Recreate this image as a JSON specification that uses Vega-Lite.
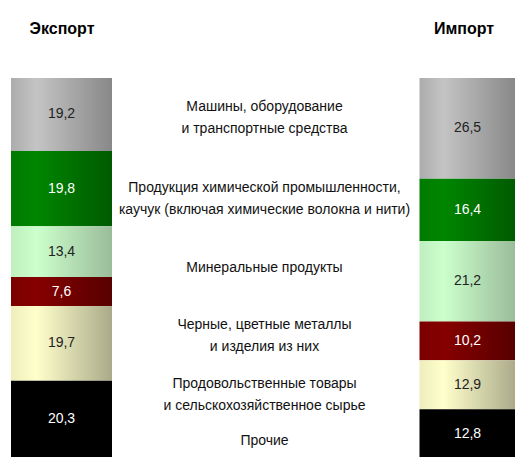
{
  "$schema": "https://vega.github.io/schema/vega-lite/v6.json",
  "width": 515,
  "height": 380,
  "autosize": "none",
  "padding": {"left": 0, "top": 78, "right": 0, "bottom": 0},
  "background": "white",
  "config": {
    "view": {"stroke": null},
    "locale": {"number": {"decimal": ",", "thousands": " ", "grouping": [3], "currency": ["", ""]}}
  },
  "datasets": {
    "shares": [
      {"side": "Экспорт", "cat": "Машины", "ord": 6, "value": 19.2},
      {"side": "Экспорт", "cat": "Химия", "ord": 5, "value": 19.8},
      {"side": "Экспорт", "cat": "Минеральные", "ord": 4, "value": 13.4},
      {"side": "Экспорт", "cat": "Металлы", "ord": 3, "value": 7.6},
      {"side": "Экспорт", "cat": "Продовольствие", "ord": 2, "value": 19.7},
      {"side": "Экспорт", "cat": "Прочие", "ord": 1, "value": 20.3},
      {"side": "Импорт", "cat": "Машины", "ord": 6, "value": 26.5},
      {"side": "Импорт", "cat": "Химия", "ord": 5, "value": 16.4},
      {"side": "Импорт", "cat": "Минеральные", "ord": 4, "value": 21.2},
      {"side": "Импорт", "cat": "Металлы", "ord": 3, "value": 10.2},
      {"side": "Импорт", "cat": "Продовольствие", "ord": 2, "value": 12.9},
      {"side": "Импорт", "cat": "Прочие", "ord": 1, "value": 12.8}
    ],
    "labels": [
      {"name": "Машины, оборудование\nи транспортные средства", "anchor": 92.4},
      {"name": "Продукция химической промышленности,\nкаучук (включая химические волокна и нити)", "anchor": 71.1},
      {"name": "Минеральные продукты", "anchor": 50},
      {"name": "Черные, цветные металлы\nи изделия из них", "anchor": 35},
      {"name": "Продовольственные товары\nи сельскохозяйственное сырье", "anchor": 19.5},
      {"name": "Прочие", "anchor": 4.5}
    ]
  },
  "layer": [
    {
      "data": {"name": "shares"},
      "transform": [
        {"stack": "value", "groupby": ["side"], "sort": [{"field": "ord", "order": "ascending"}], "as": ["v0", "v1"]}
      ],
      "mark": {"type": "bar", "strokeWidth": 0},
      "encoding": {
        "x": {
          "field": "side", "type": "nominal",
          "scale": {"type": "point", "domain": ["Экспорт", "mid", "Импорт"], "range": [61.5, 467.5], "padding": 0},
          "axis": {
            "orient": "top", "title": null, "domain": false, "ticks": false, "tickSize": 0,
            "labelAngle": 0,
            "labelExpr": "datum.value === 'mid' ? '' : datum.value",
            "labelFont": "Liberation Sans", "labelFontSize": 16, "labelFontWeight": "bold",
            "labelOffset": {"condition": {"test": "datum.value === 'Импорт'", "value": -4}, "value": 0},
            "labelColor": "#000000", "labelBaseline": "alphabetic", "labelPadding": 45
          }
        },
        "y": {"field": "v0", "type": "quantitative", "scale": {"domain": [0, 100], "nice": false, "zero": true}, "axis": null},
        "y2": {"field": "v1"},
        "size": {"condition": {"test": "datum.side === 'Импорт'", "value": 96}, "value": 101},
        "fill": {
          "condition": [
            {"test": "datum.cat === 'Машины'", "value": {"gradient": "linear", "x1": 0, "x2": 1, "y1": 0, "y2": 0, "stops": [{"offset": 0, "color": "#acacac"}, {"offset": 0.25, "color": "#c4c4c4"}, {"offset": 1, "color": "#888888"}]}},
            {"test": "datum.cat === 'Химия'", "value": {"gradient": "linear", "x1": 0, "x2": 1, "y1": 0, "y2": 0, "stops": [{"offset": 0, "color": "#007a00"}, {"offset": 0.25, "color": "#008600"}, {"offset": 1, "color": "#005a00"}]}},
            {"test": "datum.cat === 'Минеральные'", "value": {"gradient": "linear", "x1": 0, "x2": 1, "y1": 0, "y2": 0, "stops": [{"offset": 0, "color": "#bfeebf"}, {"offset": 0.25, "color": "#ccffcc"}, {"offset": 1, "color": "#9abc9a"}]}},
            {"test": "datum.cat === 'Металлы'", "value": {"gradient": "linear", "x1": 0, "x2": 1, "y1": 0, "y2": 0, "stops": [{"offset": 0, "color": "#7a0000"}, {"offset": 0.25, "color": "#860000"}, {"offset": 1, "color": "#580000"}]}},
            {"test": "datum.cat === 'Продовольствие'", "value": {"gradient": "linear", "x1": 0, "x2": 1, "y1": 0, "y2": 0, "stops": [{"offset": 0, "color": "#eeeebc"}, {"offset": 0.25, "color": "#ffffcc"}, {"offset": 1, "color": "#aaaa8a"}]}}
          ],
          "value": "#000000"
        }
      }
    },
    {
      "data": {"name": "shares"},
      "transform": [
        {"stack": "value", "groupby": ["side"], "sort": [{"field": "ord", "order": "ascending"}], "as": ["v0", "v1"]},
        {"calculate": "(datum.v0 + datum.v1) / 2", "as": "mid"}
      ],
      "mark": {"type": "text", "font": "Liberation Sans", "fontSize": 14, "baseline": "middle", "align": "center"},
      "encoding": {
        "x": {"field": "side", "type": "nominal"},
        "y": {"field": "mid", "type": "quantitative"},
        "text": {"field": "value", "type": "quantitative", "format": ".1f"},
        "color": {
          "condition": {"test": "datum.cat === 'Химия' || datum.cat === 'Металлы' || datum.cat === 'Прочие'", "value": "#ffffff"},
          "value": "#222222"
        }
      }
    },
    {
      "data": {"name": "labels"},
      "mark": {"type": "text", "font": "Liberation Sans", "fontSize": 14, "baseline": "middle", "align": "center", "lineBreak": "\n", "lineHeight": 22, "color": "#111111"},
      "encoding": {
        "x": {"datum": "mid", "type": "nominal"},
        "y": {"field": "anchor", "type": "quantitative"},
        "text": {"field": "name"}
      }
    }
  ]
}
